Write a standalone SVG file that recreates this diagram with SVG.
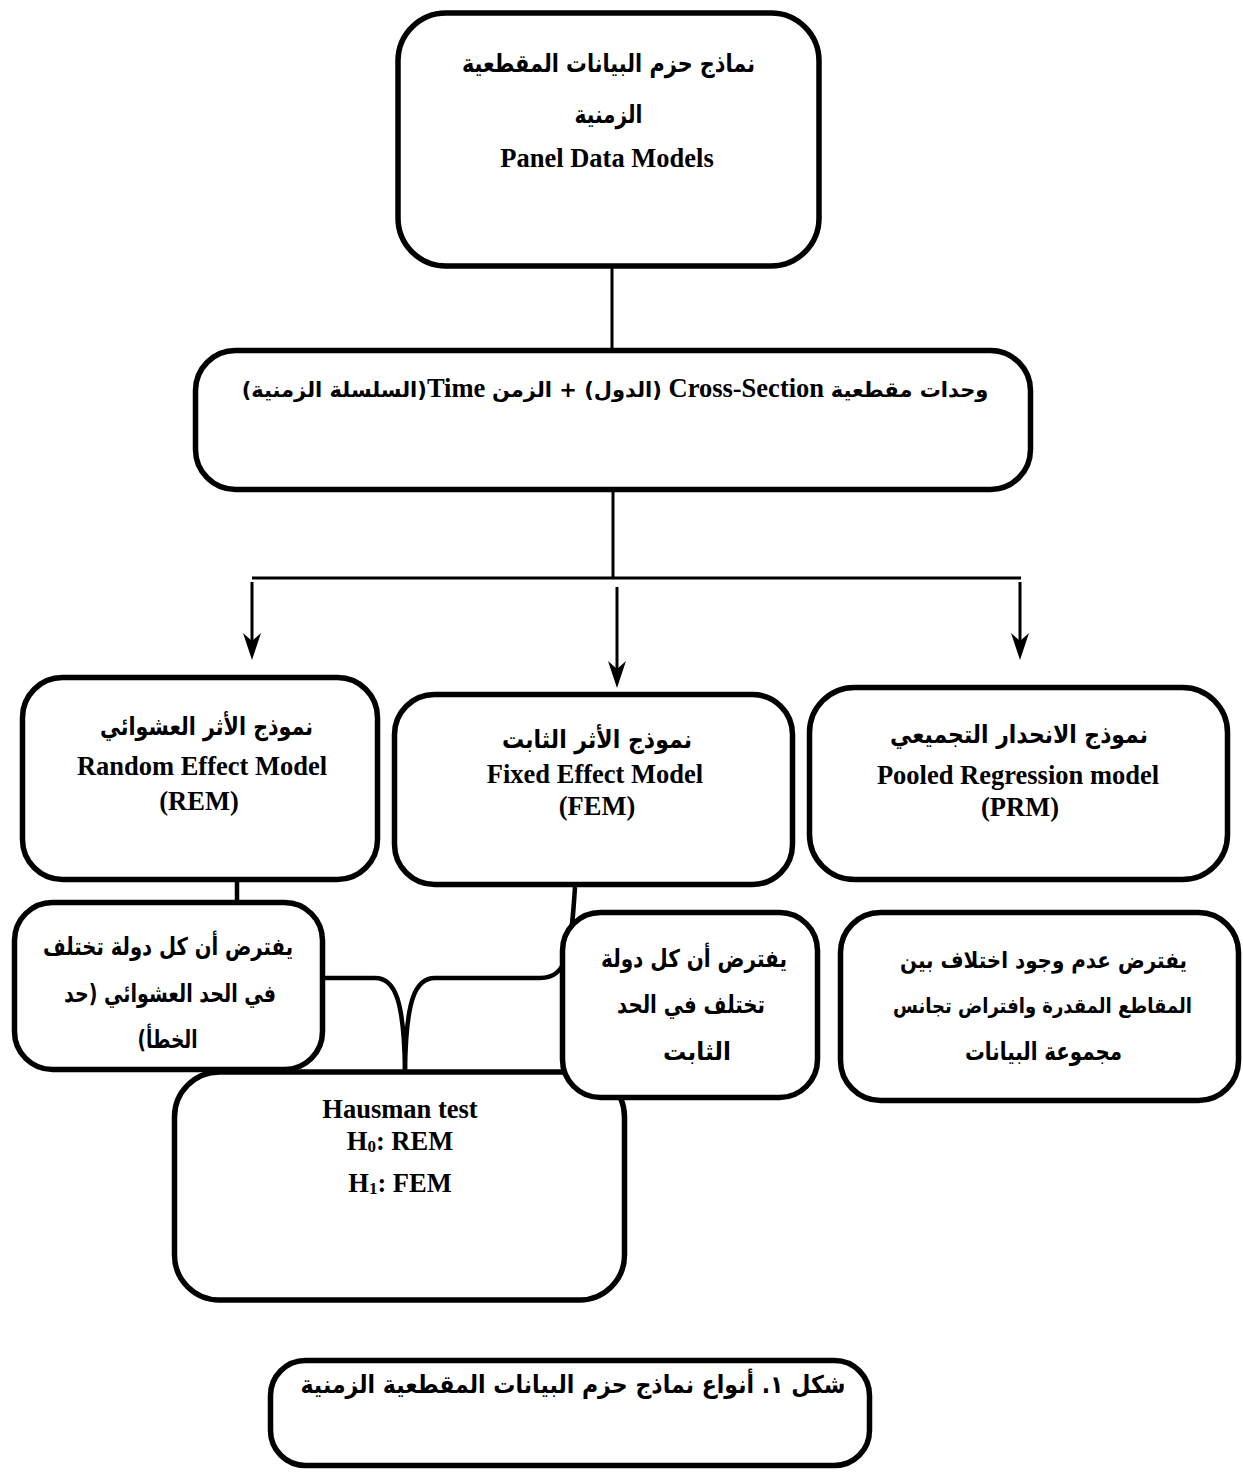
<svg xmlns="http://www.w3.org/2000/svg" width="1243" height="1472" viewBox="0 0 1243 1472">
<defs>
<style>
.box{fill:#fff;stroke:#000;stroke-width:5.5}
.ln{fill:none;stroke:#000;stroke-width:3}
.br{fill:none;stroke:#000;stroke-width:4.5}
.en{font-family:"Liberation Serif","DejaVu Sans",serif;font-weight:bold;font-size:26.5px;fill:#000}
.ar{font-family:"DejaVu Sans",sans-serif;font-weight:bold;font-size:25px;fill:#000}
.am{font-family:"DejaVu Sans",sans-serif;font-weight:bold;font-size:21px}
.nt{font-family:"DejaVu Sans",sans-serif;font-weight:bold;font-size:24.5px;fill:#000}
.ns{font-size:22.5px}
.nx{font-size:20.5px}
</style>
<marker id="arr" markerUnits="userSpaceOnUse" viewBox="-15 -12 32 24" refX="0" refY="0" markerWidth="32" markerHeight="24" orient="auto" overflow="visible">
<path d="M15,0 L-12,-9 L-4,0 L-12,9 Z" fill="#000"/>
</marker>
</defs>
<rect width="1243" height="1472" fill="#fff"/>

<g id="connectors">
<line class="ln" x1="612" y1="268" x2="612" y2="350"/>
<line class="ln" x1="613" y1="490" x2="613" y2="578"/>
<line class="ln" x1="252" y1="578" x2="1021" y2="578"/>
<line class="ln" x1="252" y1="582" x2="252" y2="645" marker-end="url(#arr)"/>
<line class="ln" x1="617" y1="587" x2="617" y2="673" marker-end="url(#arr)"/>
<line class="ln" x1="1020" y1="582" x2="1020" y2="645" marker-end="url(#arr)"/>
<line class="br" x1="237" y1="882" x2="237" y2="902"/>
<path class="br" d="M322,978 H375 C395,978 404,1000 405,1070"/>
<path class="br" d="M405,1070 C406,1000 415,978 435,978 H540 C568,978 571,950 575,887"/>
</g>

<g id="n-top">
<rect class="box" x="398" y="13" width="421" height="253" rx="48"/>
<text class="ar" x="608.5" y="72" text-anchor="middle" direction="rtl" textLength="293" lengthAdjust="spacingAndGlyphs">نماذج حزم البيانات المقطعية</text>
<text class="ar" x="608.5" y="123" text-anchor="middle" direction="rtl" textLength="68" lengthAdjust="spacingAndGlyphs">الزمنية</text>
<text class="en" x="607" y="167" text-anchor="middle">Panel Data Models</text>
</g>

<g id="n-units">
<rect class="box" x="195.5" y="350.5" width="835" height="139" rx="40"/>
<text class="en" x="615" y="397" text-anchor="middle" direction="rtl"><tspan class="am">وحدات مقطعية</tspan> Cross-Section <tspan class="am">(الدول) + الزمن</tspan> Time<tspan class="am">(السلسلة الزمنية)</tspan></text>
</g>

<g id="n-rem">
<rect class="box" x="22.5" y="677.5" width="355" height="202" rx="40"/>
<text class="ar" x="206.5" y="735" text-anchor="middle" direction="rtl" textLength="213" lengthAdjust="spacingAndGlyphs">نموذج الأثر العشوائي</text>
<text class="en" x="202" y="775" text-anchor="middle">Random Effect Model</text>
<text class="en" x="199" y="810" text-anchor="middle">(REM)</text>
</g>

<g id="n-fem">
<rect class="box" x="394.5" y="694.5" width="398" height="190" rx="40"/>
<text class="ar" x="597" y="748" text-anchor="middle" direction="rtl" textLength="190" lengthAdjust="spacingAndGlyphs">نموذج الأثر الثابت</text>
<text class="en" x="595" y="783" text-anchor="middle">Fixed Effect Model</text>
<text class="en" x="597" y="815" text-anchor="middle">(FEM)</text>
</g>

<g id="n-prm">
<rect class="box" x="809.5" y="687.5" width="418" height="192" rx="45"/>
<text class="ar" x="1019" y="743" text-anchor="middle" direction="rtl" textLength="258" lengthAdjust="spacingAndGlyphs">نموذج الانحدار التجميعي</text>
<text class="en" x="1018" y="784" text-anchor="middle">Pooled Regression model</text>
<text class="en" x="1020" y="816" text-anchor="middle">(PRM)</text>
</g>

<g id="n-hausman">
<rect class="box" x="174.5" y="1072" width="450" height="228" rx="45"/>
<text class="en" x="400" y="1118" text-anchor="middle">Hausman test</text>
<text class="en" x="400" y="1150" text-anchor="middle">H<tspan font-size="17" dy="2">0</tspan><tspan dy="-2">: REM</tspan></text>
<text class="en" x="400" y="1192" text-anchor="middle">H<tspan font-size="17" dy="2">1</tspan><tspan dy="-2">: FEM</tspan></text>
</g>

<g id="n-rem-note">
<rect class="box" x="14.5" y="902.5" width="308" height="167" rx="38"/>
<text class="nt" x="168" y="955" text-anchor="middle" direction="rtl" textLength="250" lengthAdjust="spacingAndGlyphs">يفترض أن كل دولة تختلف</text>
<text class="nt" x="170" y="1002" text-anchor="middle" direction="rtl" textLength="212" lengthAdjust="spacingAndGlyphs">في الحد العشوائي (حد</text>
<text class="nt" x="167.5" y="1048" text-anchor="middle" direction="rtl" textLength="60" lengthAdjust="spacingAndGlyphs">الخطأ)</text>
</g>

<g id="n-fem-note">
<rect class="box" x="562.5" y="912.5" width="255" height="185" rx="38"/>
<text class="nt" x="694" y="967" text-anchor="middle" direction="rtl" textLength="186" lengthAdjust="spacingAndGlyphs">يفترض أن كل دولة</text>
<text class="nt" x="691" y="1013" text-anchor="middle" direction="rtl" textLength="148" lengthAdjust="spacingAndGlyphs">تختلف في الحد</text>
<text class="nt" x="697" y="1060" text-anchor="middle" direction="rtl" textLength="68" lengthAdjust="spacingAndGlyphs">الثابت</text>
</g>

<g id="n-prm-note">
<rect class="box" x="840.5" y="912.5" width="398" height="188" rx="40"/>
<text class="nt ns" x="1043.5" y="968" text-anchor="middle" direction="rtl" textLength="287" lengthAdjust="spacingAndGlyphs">يفترض عدم وجود اختلاف بين</text>
<text class="nt nx" x="1042.5" y="1013" text-anchor="middle" direction="rtl" textLength="299" lengthAdjust="spacingAndGlyphs">المقاطع المقدرة وافتراض تجانس</text>
<text class="nt" x="1043.5" y="1060" text-anchor="middle" direction="rtl" textLength="157" lengthAdjust="spacingAndGlyphs">مجموعة البيانات</text>
</g>

<g id="n-caption">
<rect class="box" x="270.5" y="1360.5" width="599" height="105" rx="35"/>
<text class="nt" x="573" y="1393" text-anchor="middle" direction="rtl" textLength="545" lengthAdjust="spacingAndGlyphs">شكل ١. أنواع نماذج حزم البيانات المقطعية الزمنية</text>
</g>
</svg>
